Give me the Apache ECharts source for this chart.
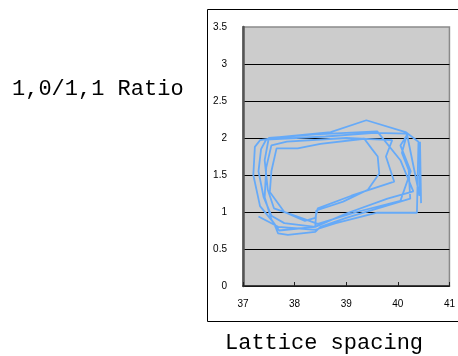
<!DOCTYPE html>
<html>
<head>
<meta charset="utf-8">
<script src="https://cdn.jsdelivr.net/npm/echarts@6/dist/echarts.min.js"></script>
<style>
  html, body { margin: 0; padding: 0; background: #fff; }
  #chart { width: 458px; height: 356px; }
</style>
</head>
<body>
<div id="chart"></div>
<script>
// lattice spacing (x) and 1,0/1,1 ratio (y) in order
var spacing = [
  37.30, 37.68, 38.40, 38.80, 39.60, 40.37, 40.40, 40.15, 39.39, 38.70,
  37.70, 37.33, 37.23, 37.20, 37.33, 37.60, 37.68, 37.87, 38.40, 38.50,
  39.00, 40.24, 40.21, 40.08, 40.18, 39.55, 38.60, 37.45, 37.35, 37.30,
  37.40, 37.55, 37.80, 38.40, 38.42, 38.94, 39.42, 39.64, 39.61, 39.50,
  39.35, 38.50, 38.06, 37.65, 37.55, 37.52, 37.80, 38.20, 38.40, 38.45,
  39.10, 39.93, 39.77, 39.89, 39.00, 37.85, 37.55, 37.45, 37.42, 37.55,
  37.70, 38.40, 39.00, 39.80, 40.30, 40.05, 39.60, 38.40, 37.50, 37.42,
  37.48, 37.60, 38.00, 38.45, 39.20, 40.05, 40.25, 40.05, 40.18, 40.42,
  40.43, 40.45
]
var ratio = [
  0.94, 0.80, 0.76, 0.85, 0.99, 0.99, 1.95, 2.08, 2.24, 2.08,
  2.01, 1.97, 1.88, 1.50, 1.08, 0.85, 0.71, 0.69, 0.73, 0.80,
  0.92, 1.18, 1.57, 1.80, 2.06, 2.07, 2.02, 1.98, 1.85, 1.55,
  1.20, 0.95, 0.85, 0.80, 1.02, 1.14, 1.30, 1.52, 1.75, 1.85,
  1.99, 1.92, 1.86, 1.86, 1.55, 1.27, 1.00, 0.88, 0.92, 1.05,
  1.22, 1.41, 1.75, 1.97, 2.00, 1.95, 1.90, 1.60, 1.20, 0.90,
  0.75, 0.80, 0.98, 1.18, 1.28, 1.70, 2.09, 2.05, 2.00, 1.70,
  1.30, 1.05, 0.95, 0.84, 1.00, 1.15, 1.55, 1.90, 2.04, 1.22,
  1.95, 1.12
]
var yLabel = '1,0/1,1 Ratio'
var xLabel = 'Lattice spacing'

var chart = echarts.init(document.getElementById('chart'))
var option = {
  animation: false,
  graphic: [
    {
      type: 'rect',
      shape: { x: 207.5, y: 9.5, width: 300, height: 312 },
      style: { fill: 'none', stroke: '#000', lineWidth: 1 },
      z: 0
    },
    {
      type: 'text',
      left: 12,
      top: 78,
      style: { text: yLabel, fontSize: 22, fontFamily: 'Liberation Mono', fill: '#000' }
    },
    {
      type: 'text',
      left: 225,
      top: 332,
      style: { text: xLabel, fontSize: 22, fontFamily: 'Liberation Mono', fill: '#000' }
    }
  ],
  grid: {
    left: 243,
    right: 5,
    top: 27,
    bottom: 70,
    show: true,
    backgroundColor: '#cccccc',
    borderColor: '#8a8a8a',
    borderWidth: 1.5
  },
  xAxis: {
    type: 'value',
    min: 37,
    max: 41,
    interval: 1,
    axisLine: { lineStyle: { color: '#222', width: 1.5 } },
    axisTick: { show: true, inside: true, length: 4, lineStyle: { color: '#222' } },
    axisLabel: { color: '#000', fontSize: 10, fontFamily: 'Liberation Sans', margin: 13 },
    splitLine: { show: false }
  },
  yAxis: {
    type: 'value',
    min: 0,
    max: 3.5,
    interval: 0.5,
    axisLine: { show: true, lineStyle: { color: '#555', width: 2.5 } },
    axisTick: { show: false },
    axisLabel: { color: '#000', fontSize: 10, fontFamily: 'Liberation Sans', margin: 16 },
    splitLine: { show: true, showMaxLine: false, lineStyle: { color: '#000', width: 1 } }
  },
  series: [
    {
      type: 'line',
      data: spacing.map(function (x, i) { return [x, ratio[i]] }),
      symbol: 'none',
      lineStyle: { color: '#66aaf8', width: 1.8 }
    }
  ]
}
chart.setOption(option)
</script>
</body>
</html>
